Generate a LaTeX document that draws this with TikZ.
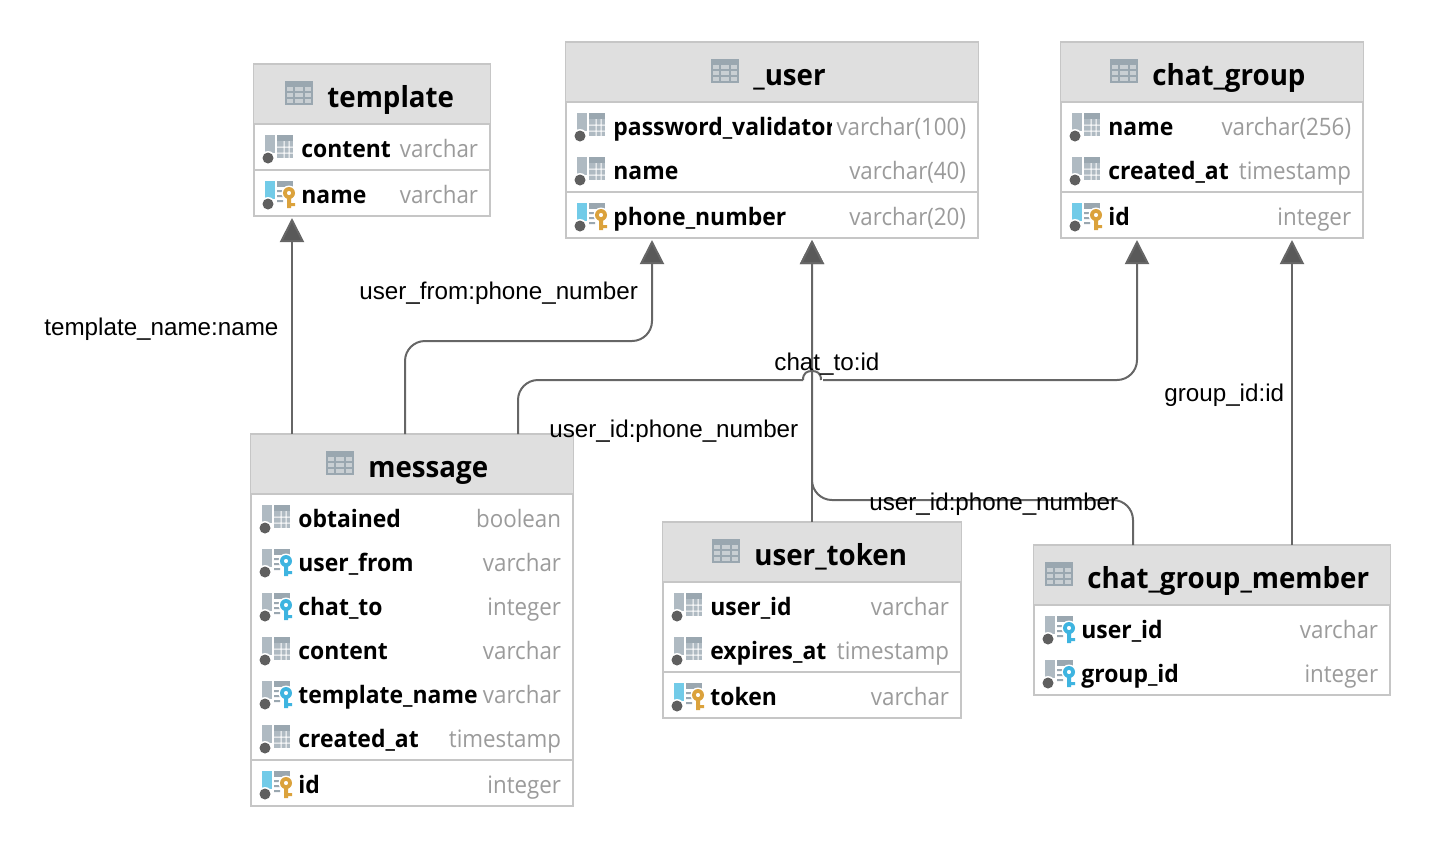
\documentclass[tikz,border=0pt]{standalone}
\usepackage{fontspec}
\setmainfont{Open Sans}
\newfontfamily\edgefont{Liberation Sans}
\newfontfamily\dbnamefont{Open Sans}[FakeStretch=0.955]
\newfontfamily\dbtypefont{Open Sans}[FakeStretch=0.93]
\usetikzlibrary{calc,arrows.meta}
\definecolor{headbg}{HTML}{DFDFDF}
\definecolor{boxline}{HTML}{C6C6C6}
\definecolor{typegray}{HTML}{9B9B9B}
\definecolor{iconbar}{HTML}{AFBAC2}
\definecolor{icongrid}{HTML}{9AA7B0}
\definecolor{iconcell}{HTML}{C9CFD3}
\definecolor{iconsky}{HTML}{72CBE8}
\definecolor{icondot}{HTML}{5F5F5F}
\definecolor{keygold}{HTML}{DBA23C}
\definecolor{keyblue}{HTML}{3EB4E0}
\definecolor{fkline}{HTML}{666666}
\definecolor{fktip}{HTML}{595959}
\tikzset{
  dbbox/.style={draw=boxline, line width=0.6pt, fill=white, inner sep=0pt, outer sep=0pt, anchor=north west},
  dbsep/.style={draw=boxline, line width=1pt},
  dbtitle/.style={font=\dbnamefont\fontsize{14.5}{16}\selectfont\bfseries, inner sep=0pt, anchor=base west},
  dbname/.style={font=\dbnamefont\fontsize{12}{14}\selectfont\bfseries, inner sep=0pt, anchor=base west},
  dbtype/.style={font=\dbtypefont\fontsize{12}{14}\selectfont, text=typegray, inner xsep=2.5pt, inner ysep=0pt, fill=white, anchor=base east},
  fk/.style={draw=fkline, line width=1pt, rounded corners=10pt, -{Triangle[length=12pt,width=12pt,fill=fktip]}},
  fkplain/.style={draw=fkline, line width=1pt, rounded corners=10pt},
  fkhop/.style={draw=fkline, line width=1pt},
  edgelab/.style={font=\edgefont\fontsize{12.1}{14}\selectfont, inner sep=0pt, anchor=base west},
  colpic/.pic={
    \fill[iconbar] (11,-14) rectangle (21,4);
    \fill[icongrid] (23,-14) rectangle (39,-8);
    \fill[iconbar] (23,-8) rectangle (39,9);
    \fill[white] (23,-2.5) rectangle (39,-1.5) (23,3.5) rectangle (39,4.5) (29.5,-8) rectangle (30.5,9) (34.5,-8) rectangle (35.5,9);
    \fill[white] (14,9) circle (7);
    \fill[icondot] (14,9) circle (5.5);
  },
  keypic/.style={
    /tikz/pics/#1/.style={code={
      \fill[\csname keybar#1\endcsname] (11,-14) rectangle (21,4);
      \fill[icongrid] (23,-14) rectangle (39,-8);
      \fill[icongrid] (23,-5) rectangle (29,-3) (23,0) rectangle (29,2) (23,5) rectangle (29,7);
      \fill[white] (35,-2) circle (7.5);
      \fill[\csname keyhue#1\endcsname, even odd rule] (35,-2) circle (6) (35,-2) circle (2.2);
      \fill[\csname keyhue#1\endcsname] (33,3) rectangle (37,13) (37,8) rectangle (41,11);
      \fill[white] (14,9) circle (7);
      \fill[icondot] (14,9) circle (5.5);
    }}
  },
}
\newcommand{\keybarpkpic}{iconsky}
\newcommand{\keyhuepkpic}{keygold}
\newcommand{\keybarfkpic}{iconbar}
\newcommand{\keyhuefkpic}{keyblue}
\tikzset{keypic=pkpic, keypic=fkpic}
% #1 name, #2 corner, #3 width, #4 height, #5 title, #6 icon x, #7 line y, #8 rows
\newcommand{\dbtable}[8]{
  \node[dbbox, minimum width=#3*0.5pt, minimum height=#4*0.5pt] (#1) at #2 {};
  \begin{scope}[shift={(#1.north west)}]
    \fill[headbg] (0,0) rectangle (#3,60);
    \draw[boxline, line width=1pt] (0,0) -- (#3,0);
    \draw[dbsep] (0,60) -- (#3,60);
    \ifnum#7>0 \draw[dbsep] (0,#7) -- (#3,#7); \fi
    \fill[icongrid] (#6,17) rectangle (#6+28,41);
    \foreach \i/\j in {2/8,10/18,20/26} \foreach \k in {23,29,35}
      \fill[iconcell] (#6+\i,\k) rectangle (#6+\j,\k+4);
    \node[dbtitle] (#1-title) at (#6+42,43) {#5};
    \foreach \rowy/\rowkind/\rowlabel/\rowtype in {#8} {
      \pic at (0,\rowy) {\rowkind};
      \node[dbname] (#1-name-\rowy) at (47,\rowy+8) {\rowlabel};
      \node[dbtype] (#1-type-\rowy) at (#3-6.5,\rowy+8) {\rowtype};
    }
  \end{scope}
}
\begin{document}
\begin{tikzpicture}[x=0.5pt,y=-0.5pt]
  \useasboundingbox (0,0) rectangle (1432,848);
  \dbtable{template}{(254,64)}{236}{152}{template}{31}{106}{
    85/colpic/content/varchar,131/pkpic/name/varchar}
  \dbtable{user}{(566,42)}{412}{196}{\_user}{145}{150}{
    85/colpic/password\_validator/varchar(100),129/colpic/name/varchar(40),175/pkpic/phone\_number/varchar(20)}
  \dbtable{chatgroup}{(1061,42)}{302}{196}{chat\_group}{49}{150}{
    85/colpic/name/varchar(256),129/colpic/created\_at/timestamp,175/pkpic/id/integer}
  \dbtable{message}{(251,434)}{322}{372}{message}{75}{326}{
    85/colpic/obtained/boolean,129/fkpic/user\_from/varchar,173/fkpic/chat\_to/integer,217/colpic/content/varchar,261/fkpic/template\_name/varchar,305/colpic/created\_at/timestamp,351/pkpic/id/integer}
  \dbtable{usertoken}{(663,522)}{298}{196}{user\_token}{49}{150}{
    85/colpic/user\_id/varchar,129/colpic/expires\_at/timestamp,175/pkpic/token/varchar}
  \dbtable{member}{(1034,545)}{356}{150}{chat\_group\_member}{11}{0}{
    85/fkpic/user\_id/varchar,129/fkpic/group\_id/integer}

  \coordinate (fromturn) at (652,341);
  \coordinate (chatturn) at (1137,380);
  \coordinate (bump) at (812,380);
  \coordinate (memberturn) at (812,500);
  \draw[fk] ($(message.north west)+(41,0)$) -- ($(template.south west)+(38,2)$);
  \draw[fk] ($(message.north west)+(154,0)$) |- (fromturn) -- ($(user.south west)+(86,2)$);
  \draw[fkplain] ($(message.north west)+(267,0)$) |- ($(bump)+(-9,0)$);
  \draw[fkhop] ($(bump)+(-9,0)$) .. controls ($(bump)+(-9,-7)$) and ($(bump)+(-5,-9)$) .. ($(bump)+(0,-9)$)
    .. controls ($(bump)+(5,-9)$) and ($(bump)+(9,-7)$) .. ($(bump)+(9,0)$);
  \draw[fk] ($(bump)+(11,0)$) -- (chatturn) -- ($(chatgroup.south west)+(76,2)$);
  \draw[fk] ($(usertoken.north west)+(149,0)$) -- ($(user.south west)+(246,2)$);
  \draw[fk] ($(member.north west)+(99,0)$) |- (memberturn) -- ($(user.south west)+(246,2)$);
  \draw[fk] ($(member.north west)+(258,0)$) -- ($(chatgroup.south west)+(231,2)$);

  \node[edgelab] (templatelab) at (44,335) {template\_name:name};
  \node[edgelab] (fromlab) at (359,299) {user\_from:phone\_number};
  \node[edgelab] (chatlab) at (774,370) {chat\_to:id};
  \node[edgelab] (userlab) at (549,437) {user\_id:phone\_number};
  \node[edgelab] (memberlab) at (869,510) {user\_id:phone\_number};
  \node[edgelab] (grouplab) at (1164,401) {group\_id:id};
\end{tikzpicture}
\end{document}
